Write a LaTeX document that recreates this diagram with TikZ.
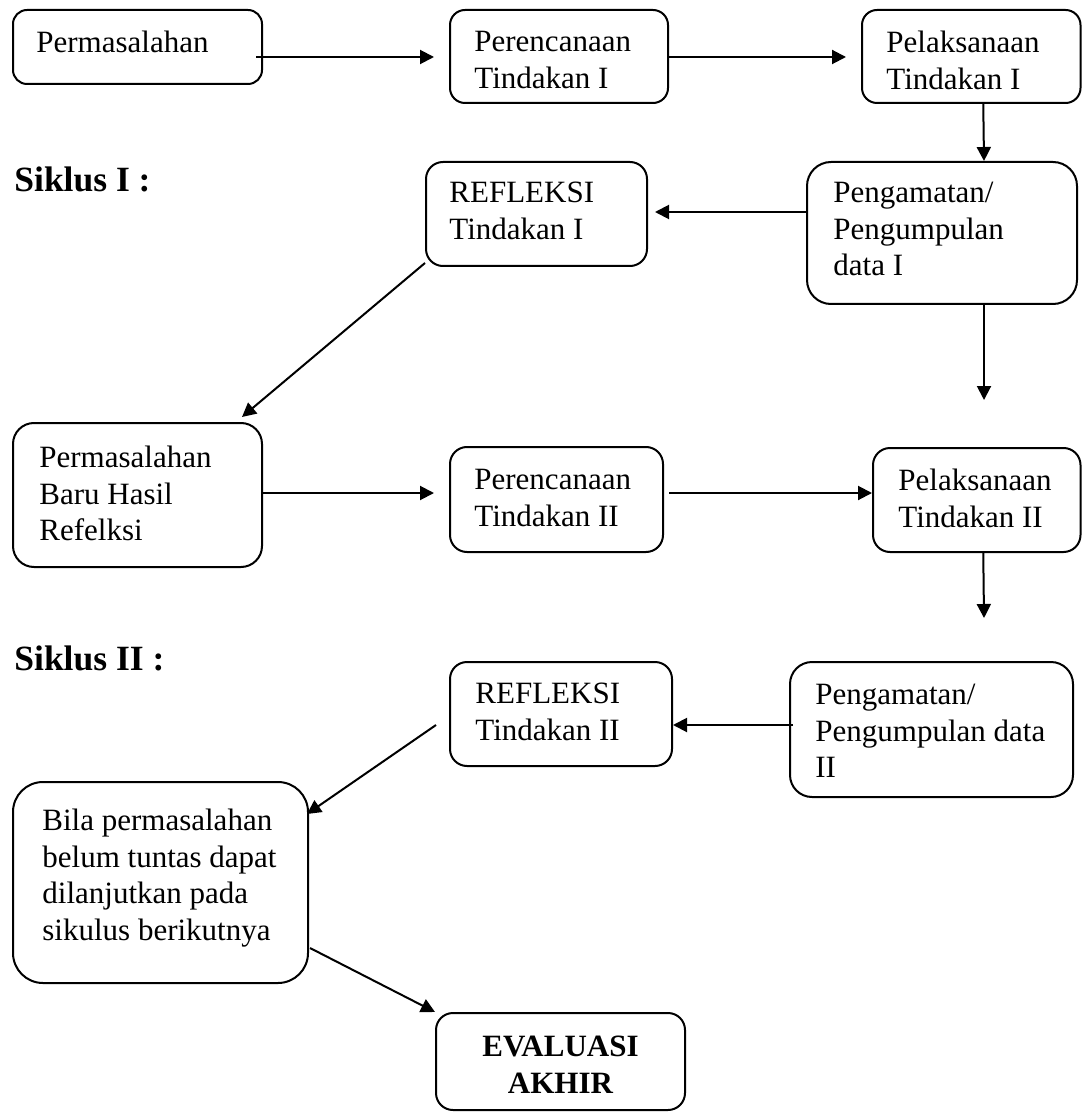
\documentclass[tikz,border=0pt]{standalone}
\usepackage{fontspec}
\setmainfont{Liberation Serif}
\usetikzlibrary{arrows.meta,calc}
\newcommand{\mybox}[6]{\node[boxsty,rounded corners=#6,minimum width={(#4-#2)*0.5pt},minimum height={(#5-#3)*0.5pt}] (#1) at ({(#2+#4)/2},{(#3+#5)/2}) {};}
\tikzset{
  boxsty/.style={draw, line width=1pt, inner sep=0pt},
  txt/.style={anchor=north west, inner sep=0pt, align=left, font=\fontsize{15.5}{18.25}\selectfont},
  ttl/.style={anchor=base west, inner sep=0pt, font=\fontsize{17.75}{21}\selectfont\bfseries},
  arr/.style={-{Triangle[length=7pt,width=7pt]}, line width=1pt}
}
\begin{document}
\begin{tikzpicture}[x=0.5pt,y=-0.5pt]
\fill[white] (0,0) rectangle (1083,1112);
\useasboundingbox (0,0) rectangle (1083,1112);
% boxes
\mybox{b1}{13}{10}{262}{84}{7pt}
\mybox{b2}{450}{10}{668}{103}{7.5pt}
\mybox{b3}{862}{10}{1080.5}{103}{7.5pt}
\mybox{r1}{426}{162}{647}{266}{8.5pt}
\mybox{p1}{807}{162}{1077}{304}{12pt}
\mybox{pb}{13}{423}{262}{567}{10.5pt}
\mybox{pr2}{450}{447}{663}{552}{8.5pt}
\mybox{pl2}{873}{448}{1080.5}{552}{8.5pt}
\mybox{r2}{450}{662}{672}{766}{8.5pt}
\mybox{p2}{790}{662}{1073}{797}{11pt}
\mybox{bila}{13}{782}{308}{983}{15pt}
\mybox{ev}{436}{1013}{685}{1110}{8.5pt}
% texts
\node[txt] (t1) at (36,31) {Permasalahan};
\node[txt] (t2) at (474,31) {Perencanaan\\Tindakan I};
\node[txt] (t3) at (886,31) {Pelaksanaan\\Tindakan I};
\node[txt] (tr1) at (449,182) {REFLEKSI\\Tindakan I};
\node[txt] (tp1) at (833,182) {Pengamatan/\\Pengumpulan\\data I};
\node[txt] (tpb) at (39,446) {Permasalahan\\Baru Hasil\\Refelksi};
\node[txt] (tpr2) at (474,469) {Perencanaan\\Tindakan II};
\node[txt] (tpl2) at (898,469) {Pelaksanaan\\Tindakan II};
\node[txt] (tr2) at (475,683) {REFLEKSI\\Tindakan II};
\node[txt] (tp2) at (815,684) {Pengamatan/\\Pengumpulan data\\II};
\node[txt] (tbila) at (42,809) {Bila permasalahan\\belum tuntas dapat\\dilanjutkan pada\\sikulus berikutnya};
\node[txt,anchor=north,align=center,font=\fontsize{15.5}{18.25}\selectfont\bfseries] (tev) at (560.5,1036) {EVALUASI\\AKHIR};
\node[ttl] (s1) at (14,192) {Siklus I :};
\node[ttl] (s2) at (14,670) {Siklus II :};
% free ends
\coordinate (c1) at (984,400);
\coordinate (c2) at (984,618);
% connectors
\draw[arr] ([shift={(-7,10)}]b1.east) -- ([shift={(-15,0.5)}]b2.west);
\draw[arr] ([shift={(0,0.5)}]b2.east) -- ([shift={(-15,0.5)}]b3.west);
\draw[arr] ([shift={(12,0)}]b3.south) -- ([shift={(42,0)}]p1.north);
\draw[arr] ([shift={(0,-21)}]p1.west) -- ([shift={(7,-2)}]r1.east);
\draw[arr] ([shift={(42,0)}]p1.south) -- (c1);
\draw[arr] ([shift={(0,-4)}]r1.south west) -- ([shift={(-21,-5)}]pb.north east);
\draw[arr] ([shift={(0,-2)}]pb.east) -- ([shift={(-15,-6.5)}]pr2.west);
\draw[arr] ([shift={(5,-6.5)}]pr2.east) -- ([shift={(0,-7)}]pl2.west);
\draw[arr] ([shift={(6.5,0)}]pl2.south) -- (c2);
\draw[arr] ([shift={(4,-4.5)}]p2.west) -- ([shift={(0,11)}]r2.east);
\draw[arr] ([shift={(-13,11)}]r2.west) -- ([shift={(-2,33)}]bila.north east);
\draw[arr] ([shift={(1,65.5)}]bila.east) -- (ev.north west);
\end{tikzpicture}
\end{document}
